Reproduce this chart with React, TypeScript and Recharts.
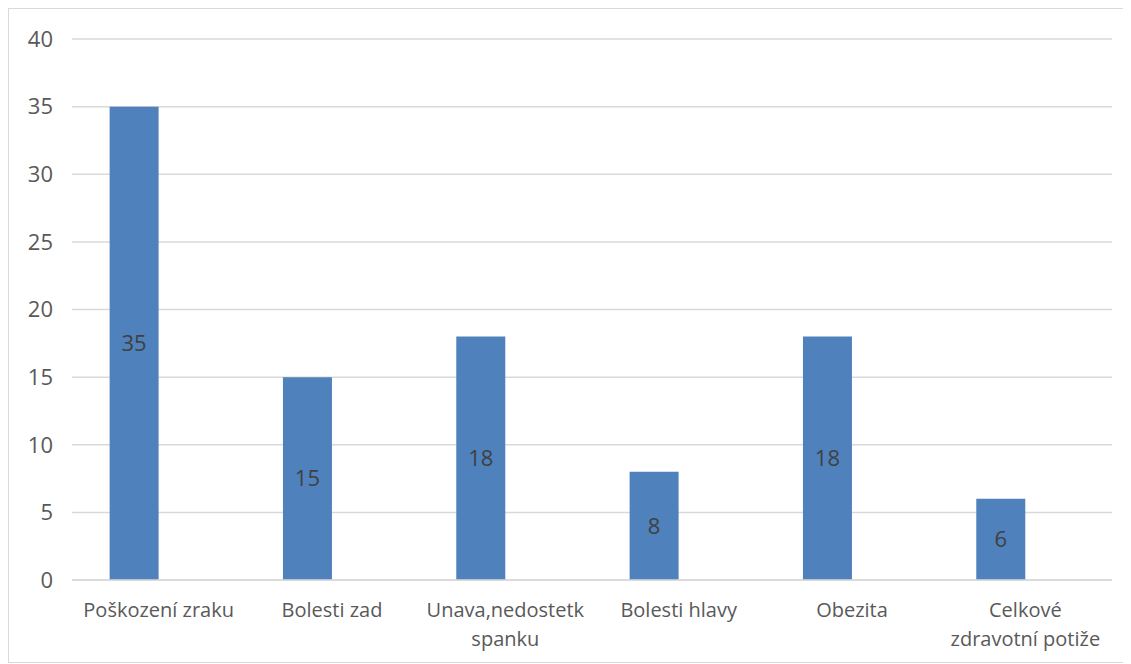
import { BarChart, Bar, XAxis, YAxis, CartesianGrid, LabelList } from 'recharts';

const categories = [
  'Poškození zraku',
  'Bolesti zad',
  'Unava,nedostetk spanku',
  'Bolesti hlavy',
  'Obezita',
  'Celkové zdravotní potiže',
];
const counts = [35, 15, 18, 8, 18, 6];
// Excel chart had an empty second series, which keeps the bars left of center
const emptySeries = [null, null, null, null, null, null];
const yTicks = [0, 5, 10, 15, 20, 25, 30, 35, 40];

const FONT = '"Open Sans", sans-serif';
const TEXT = '#595959';

const data = categories.map((name, i) => ({
  name,
  count: counts[i],
  blank: emptySeries[i],
}));

let ctx: CanvasRenderingContext2D | null = null;
function textWidth(s: string): number {
  if (!ctx) ctx = document.createElement('canvas').getContext('2d');
  if (!ctx) return s.length * 10;
  ctx.font = `20px ${FONT}`;
  return ctx.measureText(s).width;
}

function wrap(label: string, maxWidth: number): string[] {
  const words = label.split(' ');
  const lines: string[] = [];
  let cur = '';
  for (const w of words) {
    const next = cur ? `${cur} ${w}` : w;
    if (cur && textWidth(next) > maxWidth) {
      lines.push(cur);
      cur = w;
    } else {
      cur = next;
    }
  }
  if (cur) lines.push(cur);
  return lines;
}

function CategoryTick(props: any) {
  const { x, y, payload } = props;
  const lines = wrap(String(payload.value), 162);
  return (
    <text
      x={x}
      y={y + 29}
      textAnchor="middle"
      fill={TEXT}
      fontSize={20}
      fontFamily={FONT}
    >
      {lines.map((line, i) => (
        <tspan key={i} x={x} dy={i === 0 ? 0 : 29}>
          {line}
        </tspan>
      ))}
    </text>
  );
}

export default function App() {
  return (
    <div
      style={{
        width: 1121,
        height: 653,
        border: '1px solid #d9d9d9',
        background: '#fff',
      }}
    >
      <BarChart
        width={1121}
        height={653}
        data={data}
        margin={{ top: 30, right: 18, bottom: 0, left: 0 }}
        barGap={0}
        barCategoryGap="21.7%"
      >
        <CartesianGrid vertical={false} stroke="#d9d9d9" strokeWidth={1.5} />
        <XAxis
          dataKey="name"
          height={82}
          interval={0}
          axisLine={{ stroke: '#d9d9d9', strokeWidth: 1.5 }}
          tickLine={false}
          tick={<CategoryTick />}
        />
        <YAxis
          width={63}
          domain={[0, 40]}
          ticks={yTicks}
          axisLine={false}
          tickLine={false}
          tickSize={8}
          tickMargin={11}
          tick={{ fill: TEXT, fontSize: 22, fontFamily: FONT }}
        />
        <Bar dataKey="count" fill="#4f81bd" isAnimationActive={false}>
          <LabelList
            dataKey="count"
            position="center"
            fill="#404040"
            fontSize={22}
            fontFamily={FONT}
          />
        </Bar>
        <Bar dataKey="blank" fill="#c0504d" isAnimationActive={false} />
      </BarChart>
    </div>
  );
}
